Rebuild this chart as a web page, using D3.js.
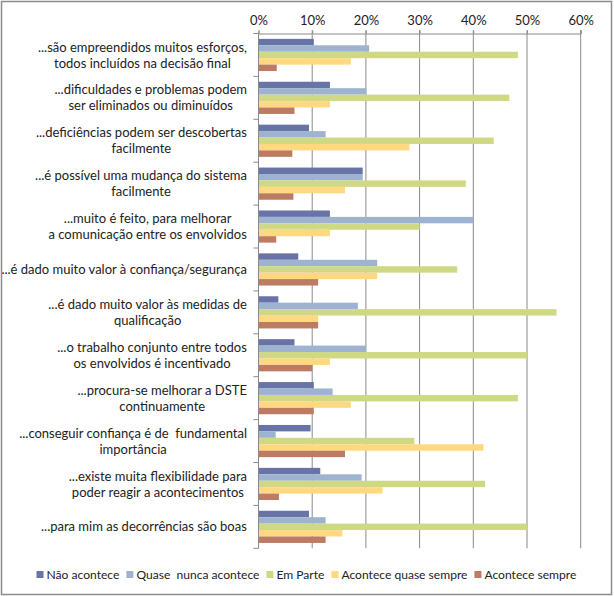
<!DOCTYPE html>
<html>
<head>
<meta charset="utf-8">
<script src="https://cdn.jsdelivr.net/npm/d3@7/dist/d3.min.js"></script>
<style>
  html, body { margin: 0; padding: 0; background: #fff; }
  svg { display: block; }
  text { font-family: Lato, "Open Sans", sans-serif; fill: #222; white-space: pre; }
</style>
</head>
<body>
<svg id="chart" width="614" height="596"></svg>
<script>
const categories = [
  ["...são empreendidos muitos esforços,", "todos incluídos na decisão final"],
  ["...dificuldades e problemas podem", "ser eliminados ou diminuídos"],
  ["...deficiências podem ser descobertas", "facilmente"],
  ["...é possível uma mudança do sistema", "facilmente"],
  ["...muito é feito, para melhorar", "a comunicação entre os envolvidos"],
  ["...é dado muito valor à confiança/segurança"],
  ["...é dado muito valor às medidas de", "qualificação"],
  ["...o trabalho conjunto entre todos", "os envolvidos é incentivado"],
  ["...procura-se melhorar a DSTE", "continuamente"],
  ["...conseguir confiança é de  fundamental", "importância"],
  ["...existe muita flexibilidade para", "poder reagir a acontecimentos"],
  ["...para mim as decorrências são boas"]
];
const seriesNames = ["Não acontece", "Quase  nunca acontece", "Em Parte", "Acontece quase sempre", "Acontece sempre"];
const naoAcontece      = [10.3, 13.3,  9.4, 19.4, 13.3,  7.4,  3.7,  6.7, 10.3,  9.7, 11.5,  9.4];
const quaseNunca       = [20.6, 20.1, 12.5, 19.4, 40.0, 22.1, 18.5, 20.0, 13.8,  3.2, 19.2, 12.5];
const emParte          = [48.3, 46.7, 43.8, 38.6, 30.0, 37.0, 55.5, 50.0, 48.3, 29.0, 42.2, 50.0];
const quaseSempre      = [17.2, 13.3, 28.1, 16.1, 13.3, 22.1, 11.1, 13.3, 17.2, 41.9, 23.1, 15.6];
const aconteceSempre   = [ 3.4,  6.7,  6.3,  6.5,  3.3, 11.1, 11.1, 10.0, 10.3, 16.1,  3.8, 12.5];
const tickValues = [0, 10, 20, 30, 40, 50, 60];
const colors = ["#6974A6", "#9DB3D0", "#CFD983", "#FFD880", "#BD7B63"];

const seriesValues = [naoAcontece, quaseNunca, emParte, quaseSempre, aconteceSempre];

const svg = d3.select("#chart");

// outer border
svg.append("rect").attr("x", 1.5).attr("y", 1.5).attr("width", 610).attr("height", 593)
  .attr("fill", "#fff").attr("stroke", "#8c8c8c").attr("stroke-width", 1.5);

const x = d3.scaleLinear().domain([0, 60]).range([258.5, 580.7]);
const y = d3.scaleBand().domain(d3.range(categories.length)).range([33.5, 548.3])
  .paddingInner(0.25).paddingOuter(0.125);
const ySub = d3.scaleBand().domain(d3.range(seriesNames.length)).range([0, y.bandwidth()]);

// gridlines
svg.append("g").selectAll("line").data(tickValues.slice(1)).join("line")
  .attr("x1", d => x(d)).attr("x2", d => x(d))
  .attr("y1", 30).attr("y2", 548.3)
  .attr("stroke", "#8a8a8a").attr("stroke-width", 1);

// top axis
const topAxis = d3.axisTop(x).tickValues(tickValues).tickFormat(d => d + "%").tickSize(3).tickPadding(6);
const gTop = svg.append("g").attr("transform", "translate(0,33.5)").call(topAxis);
gTop.select(".domain").attr("stroke", "#8a8a8a");
gTop.selectAll(".tick line").attr("stroke", "#8a8a8a");
gTop.selectAll(".tick text").style("font-family", "Lato, sans-serif").style("font-size", "13px").attr("fill", "#222");

// bars
const groups = svg.append("g").selectAll("g").data(categories).join("g")
  .attr("transform", (d, i) => `translate(0,${y(i)})`);
groups.selectAll("rect").data((d, i) => seriesValues.map((s, k) => ({k, v: s[i]}))).join("rect")
  .attr("x", x(0))
  .attr("y", d => ySub(d.k))
  .attr("width", d => x(d.v) - x(0))
  .attr("height", ySub.bandwidth())
  .attr("fill", d => colors[d.k]);

// left axis with ticks at category boundaries
const boundaries = d3.range(categories.length + 1).map(i => 33.5 + i * y.step());
svg.append("line").attr("x1", x(0)).attr("x2", x(0)).attr("y1", 33.5).attr("y2", 548.3)
  .attr("stroke", "#8a8a8a");
svg.append("g").selectAll("line").data(boundaries).join("line")
  .attr("x1", x(0) - 5).attr("x2", x(0)).attr("y1", d => d).attr("y2", d => d)
  .attr("stroke", "#8a8a8a");

// category labels
const labelG = svg.append("g");
categories.forEach((lines, i) => {
  const cy = y(i) + y.bandwidth() / 2;
  const t = labelG.append("text").attr("text-anchor", "middle").style("font-size", "13px");
  const lh = 16;
  lines.forEach((ln, j) => {
    t.append("tspan").attr("x", 0).attr("y", cy + (j - (lines.length - 1) / 2) * lh).attr("dy", "0.35em").text(ln);
  });
  const w = t.node().getBBox().width;
  t.attr("transform", `translate(${247 - w / 2},0)`);
});

// legend: lay out sequentially, fit between 36.5 and 584
const legend = svg.append("g");
let fs = 13;
const items = seriesNames.map((name, k) => {
  const r = legend.append("rect").attr("y", 571).attr("width", 7).attr("height", 7).attr("fill", colors[k]);
  const t = legend.append("text").attr("y", 575).attr("dy", "0.35em").style("font-size", fs + "px").text(name);
  return {r, t};
});
function layoutLegend() {
  let cx = 36.5;
  items.forEach(({r, t}) => {
    r.attr("x", cx);
    t.attr("x", cx + 10);
    cx += 10 + t.node().getComputedTextLength() + 7;
  });
  return cx - 7;
}
let end = layoutLegend();
const avail = 584 - 36.5 - 5 * 17;
const textW = end - 36.5 - 5 * 17 + 7;
fs = fs * Math.min(1, avail / textW);
items.forEach(({t}) => t.style("font-size", fs + "px"));
layoutLegend();
</script>
</body>
</html>
